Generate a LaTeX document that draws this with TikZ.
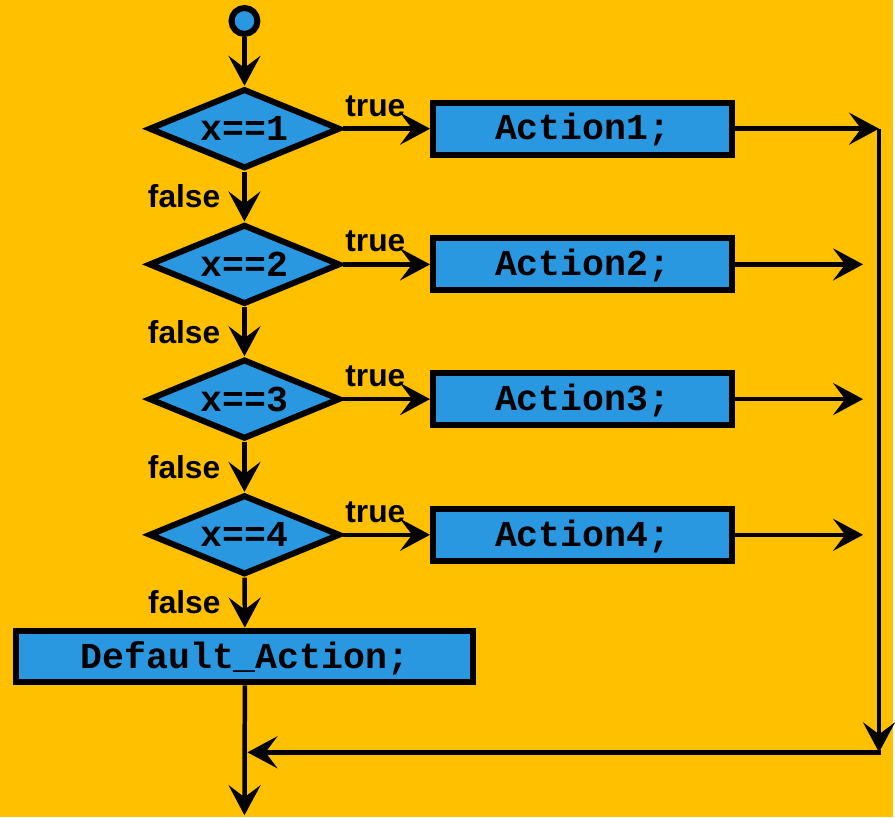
\documentclass[tikz,border=0pt]{standalone}
\usepackage{fontspec}
\setmainfont{Liberation Sans}
\newfontfamily\codefont{Liberation Mono}
\usetikzlibrary{arrows.meta, positioning, shapes.geometric}
\definecolor{bgorange}{RGB}{255,192,0}
\definecolor{boxblue}{RGB}{41,152,224}

\begin{document}
\begin{tikzpicture}[x=0.5pt, y=-0.5pt,
  flow/.style={line width=2.25pt, -{Stealth[length=15pt, width=16pt, inset=6pt]}},
  test/.style={diamond, aspect=2.4, draw, line width=3pt, fill=boxblue,
               minimum width=96pt, minimum height=40pt, inner sep=0pt,
               font=\codefont\bfseries\fontsize{18.3pt}{20pt}\selectfont},
  act/.style={rectangle, draw, line width=3pt, fill=boxblue,
              minimum width=150pt, minimum height=26pt, inner sep=0pt,
              text depth=2pt,
              font=\codefont\bfseries\fontsize{18.3pt}{20pt}\selectfont},
  lbl/.style={font=\bfseries\fontsize{15.9pt}{18pt}\selectfont, inner sep=0pt}]

  % background
  \fill[bgorange] (0,0) rectangle (895,819);

  \node[circle, draw, line width=3pt, fill=boxblue, minimum size=13pt,
        inner sep=0pt] (start) at (245,21) {};

  % tests and actions
  \foreach \i/\y in {1/129, 2/265, 3/400, 4/536} {
    \node[test] (d\i) at (245,\y) {x==\i};
    \node[act] (a\i) at (584,\y) {Action\i;};
    \coordinate (o\i) at (865,\y);
  }
  \node[act, minimum width=229pt] (dflt) at (245.5,658) {Default\_Action;};

  \coordinate (top) at (881,129);
  \coordinate (corner) at (881,754);
  \coordinate (merge) at (248,754);
  \coordinate (stop) at (245,817);

  \draw[flow] (start) -- (d1);
  \foreach \i/\j in {1/d2, 2/d3, 3/d4, 4/dflt} {
    \draw[flow] (d\i) -- node[lbl, left=11pt] {false} (\j);
    \draw[flow] (d\i) -- node[lbl, pos=0.37, above=5pt] {true} (a\i);
  }
  \foreach \i in {2,3,4} {
    \draw[flow] (a\i) -- (o\i);
  }

  % all branches join below the default action
  \draw[flow] (a1) -- (top);
  \draw[flow] (top) -- (corner);
  \draw[flow] ([xshift=1.1pt]corner) -- (merge);
  \draw[flow] (dflt) -- (stop);
\end{tikzpicture}
\end{document}
